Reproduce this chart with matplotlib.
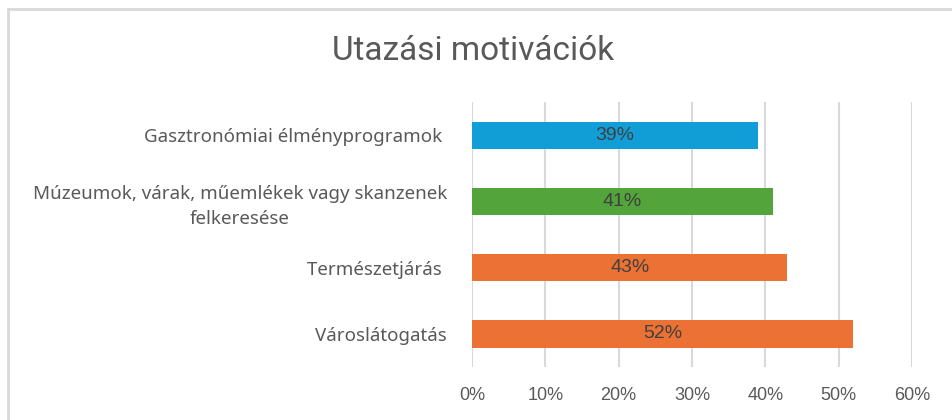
import numpy as np
import matplotlib.pyplot as plt
from matplotlib.lines import Line2D
from matplotlib.ticker import FuncFormatter

# --- data ---
categories = [
    "Gasztronómiai élményprogramok ",
    "Múzeumok, várak, műemlékek vagy skanzenek\nfelkeresése",
    "Természetjárás ",
    "Városlátogatás",
]
values = [0.39, 0.41, 0.43, 0.52]
bar_colors = ["#119ED6", "#53A43A", "#EB7134", "#EB7134"]
xticks = [0, 0.1, 0.2, 0.3, 0.4, 0.5, 0.6]

fig = plt.figure(figsize=(9.52, 4.2), dpi=100)
ax = fig.add_axes([0.4958, 0.126, 0.4622, 0.631])

ypos = np.arange(len(categories))
ax.barh(ypos, values, height=0.41, color=bar_colors, zorder=3)
ax.set_ylim(len(categories) - 0.5, -0.5)
ax.set_xlim(0, 0.6)

ax.set_xticks(xticks)
ax.xaxis.set_major_formatter(FuncFormatter(lambda v, p: f"{v*100:.0f}%"))
ax.tick_params(axis="x", length=0, pad=14, labelsize=13, labelcolor="#595959")
for lbl in ax.get_xticklabels():
    lbl.set_fontfamily("Liberation Sans")

ax.set_yticks(ypos)
ax.set_yticklabels(categories, fontsize=13.5, color="#595959", family="Noto Sans",
                   multialignment="center", linespacing=1.45)
ax.tick_params(axis="y", length=0, pad=18)

ax.grid(axis="x", color="#D9D9D9", linewidth=1.5, zorder=0)
for s in ax.spines.values():
    s.set_visible(False)

for y, v in zip(ypos, values):
    ax.text(v / 2, y, f"{v*100:.0f}%", ha="center", va="center", fontsize=14,
            color="#404040", family="Liberation Sans", zorder=4)

fig.text(0.497, 0.878, "Utazási motivációk", ha="center", va="center",
         fontsize=24, color="#595959", family="Roboto")

# chart area border (left and top edges visible)
fig.add_artist(Line2D([0.0085, 0.0085], [0.0, 0.978], color="#D9D9D9", lw=2))
fig.add_artist(Line2D([0.0085, 1.0], [0.978, 0.978], color="#D9D9D9", lw=2))

fig.savefig("out.png", dpi=100)
